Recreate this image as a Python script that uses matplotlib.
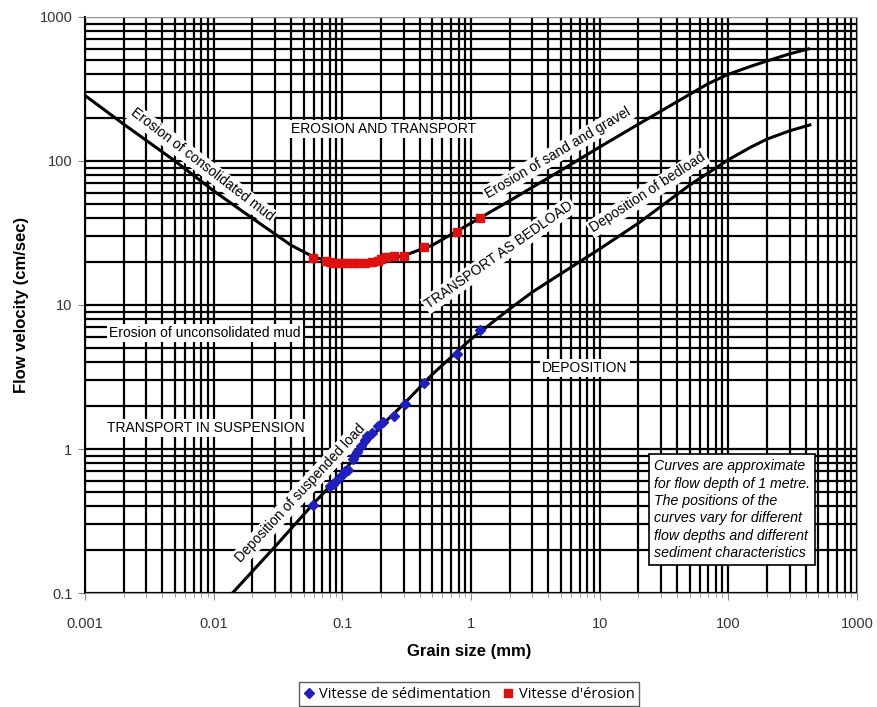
import matplotlib
matplotlib.use("Agg")
import matplotlib.pyplot as plt
from matplotlib.ticker import FixedLocator, NullFormatter, LogLocator

plt.rcParams['font.family'] = ['Liberation Sans', 'DejaVu Sans']

# courbe d'érosion (noire, scan)
erosion_x = [0.001, 0.002, 0.005, 0.01, 0.02, 0.04, 0.06, 0.08, 0.1, 0.15, 0.2, 0.3,
             0.5, 1, 2, 5, 10, 20, 50, 70, 100, 150, 200, 300, 420]
erosion_y = [285, 180, 100, 62, 40, 26, 21.5, 20.2, 20, 20, 20.5, 22,
             26, 37, 53, 86, 125, 180, 290, 345, 400, 455, 495, 555, 600]

# courbe de dépôt
depot_x = [0.014, 0.03, 0.06, 0.1, 0.2, 0.3, 0.5, 1, 2, 3, 5, 7, 10, 20, 50, 100, 150, 200, 300, 430]
depot_y = [0.1, 0.21, 0.42, 0.68, 1.45, 2.05, 3.3, 5.8, 9.4, 12.3, 16.5, 20, 24.5, 37, 68, 102, 125, 142, 162, 178]

# points mesurés
sed_x = [0.059, 0.08, 0.085, 0.09, 0.1, 0.105, 0.11, 0.12, 0.125, 0.13, 0.14, 0.15,
         0.155, 0.17, 0.19, 0.207, 0.25, 0.306, 0.43, 0.78, 1.17]
sed_y = [0.41, 0.55, 0.57, 0.6, 0.66, 0.70, 0.72, 0.85, 0.91, 0.95, 1.05, 1.15,
         1.23, 1.3, 1.45, 1.54, 1.7, 2.05, 2.87, 4.6, 6.7]

ero_x = [0.059, 0.075, 0.08, 0.085, 0.09, 0.1, 0.11, 0.12, 0.13, 0.15, 0.17, 0.19,
         0.2, 0.22, 0.25, 0.3, 0.43, 0.78, 1.17]
ero_y = [21.2, 20.2, 19.8, 19.6, 19.5, 19.5, 19.5, 19.6, 19.6, 19.7, 19.8, 20.3,
         21, 21.5, 21.8, 22, 25.3, 32, 40]

x_ticks = [0.001, 0.01, 0.1, 1, 10, 100, 1000]
x_labels = ['0.001', '0.01', '0.1', '1', '10', '100', '1000']
y_ticks = [0.1, 1, 10, 100, 1000]
y_labels = ['0.1', '1', '10', '100', '1000']

fig = plt.figure(figsize=(8.78, 7.07), dpi=100)
ax = fig.add_axes([0.0968, 0.1612, 0.8793, 0.8148])
ax.set_xscale('log')
ax.set_yscale('log')
ax.set_xlim(0.001, 1000)
ax.set_ylim(0.1, 1000)

# grille du diagramme scanné
ax.xaxis.set_minor_locator(LogLocator(base=10, subs=range(2, 10)))
ax.yaxis.set_minor_locator(LogLocator(base=10, subs=range(2, 10)))
ax.grid(True, which='both', color='black', linewidth=1.6, zorder=0)
ax.set_axisbelow(True)

ax.plot(erosion_x, erosion_y, color='black', linewidth=2.2, zorder=3)
ax.plot(depot_x, depot_y, color='black', linewidth=2.2, zorder=3)

ax.plot(sed_x, sed_y, linestyle='none', marker='D', markersize=5, color='#1f1fbf',
        label='Vitesse de sédimentation', zorder=5)
ax.plot(ero_x, ero_y, linestyle='none', marker='s', markersize=5.5, color='#e01010',
        label="Vitesse d'érosion", zorder=5)

box = dict(facecolor='white', edgecolor='none', pad=1.5)
lab = dict(fontsize=10, color='black', ha='center', va='center', rotation_mode='anchor', zorder=4, bbox=box)
ax.text(0.21, 167, 'EROSION AND TRANSPORT', **lab)
ax.text(0.0081, 94, 'Erosion of consolidated mud', rotation=-37.5, **lab)
ax.text(4.73, 114, 'Erosion of sand and gravel', rotation=30.5, **lab)
ax.text(1.65, 22.2, 'TRANSPORT AS BEDLOAD', rotation=35, **lab)
ax.text(23.7, 60, 'Deposition of bedload', rotation=33, **lab)
ax.text(0.047, 0.49, 'Deposition of suspended load', rotation=47, **lab)
ax.text(0.0086, 6.4, 'Erosion of unconsolidated mud', **lab)
ax.text(0.0087, 1.4, 'TRANSPORT IN SUSPENSION', **lab)
ax.text(7.7, 3.65, 'DEPOSITION', **lab)

ax.text(0.737, 0.232, 'Curves are approximate\nfor flow depth of 1 metre.\nThe positions of the\n'
        'curves vary for different\nflow depths and different\nsediment characteristics',
        transform=ax.transAxes, fontsize=10.2, style='italic', ha='left', va='top', linespacing=1.3,
        zorder=6, bbox=dict(boxstyle='square,pad=0.35', facecolor='white', edgecolor='black', linewidth=1.2))

ax.xaxis.set_major_locator(FixedLocator(x_ticks))
ax.set_xticklabels(x_labels)
ax.yaxis.set_major_locator(FixedLocator(y_ticks))
ax.set_yticklabels(y_labels)
ax.xaxis.set_minor_formatter(NullFormatter())
ax.yaxis.set_minor_formatter(NullFormatter())
ax.tick_params(axis='x', which='major', length=5, pad=12, labelsize=10.5, labelcolor='#333333', color='#888888')
ax.tick_params(axis='x', which='minor', length=3, color='#888888')
ax.tick_params(axis='y', which='major', length=5, pad=4, labelsize=10.5, labelcolor='#333333', color='#888888')
ax.tick_params(axis='y', which='minor', length=0)
for s in ax.spines.values():
    s.set_color('#999999')
ax.spines['left'].set_color('black')
ax.spines['left'].set_linewidth(1.5)

fig.text(0.025, 0.569, 'Flow velocity (cm/sec)', rotation=90, ha='center', va='center',
         fontsize=12, fontweight='bold')
fig.text(0.534, 0.078, 'Grain size (mm)', ha='center', va='center', fontsize=12, fontweight='bold')

leg = fig.legend(loc='center', bbox_to_anchor=(0.534, 0.018), ncol=2, frameon=True,
                 fancybox=False, edgecolor='#333333', handlelength=0.8, handletextpad=0.3,
                 columnspacing=0.8, borderpad=0.3, markerscale=1.1,
                 prop={'family': 'Open Sans', 'size': 10.5})
leg.get_frame().set_linewidth(1.0)

fig.savefig('out.png', dpi=100)
